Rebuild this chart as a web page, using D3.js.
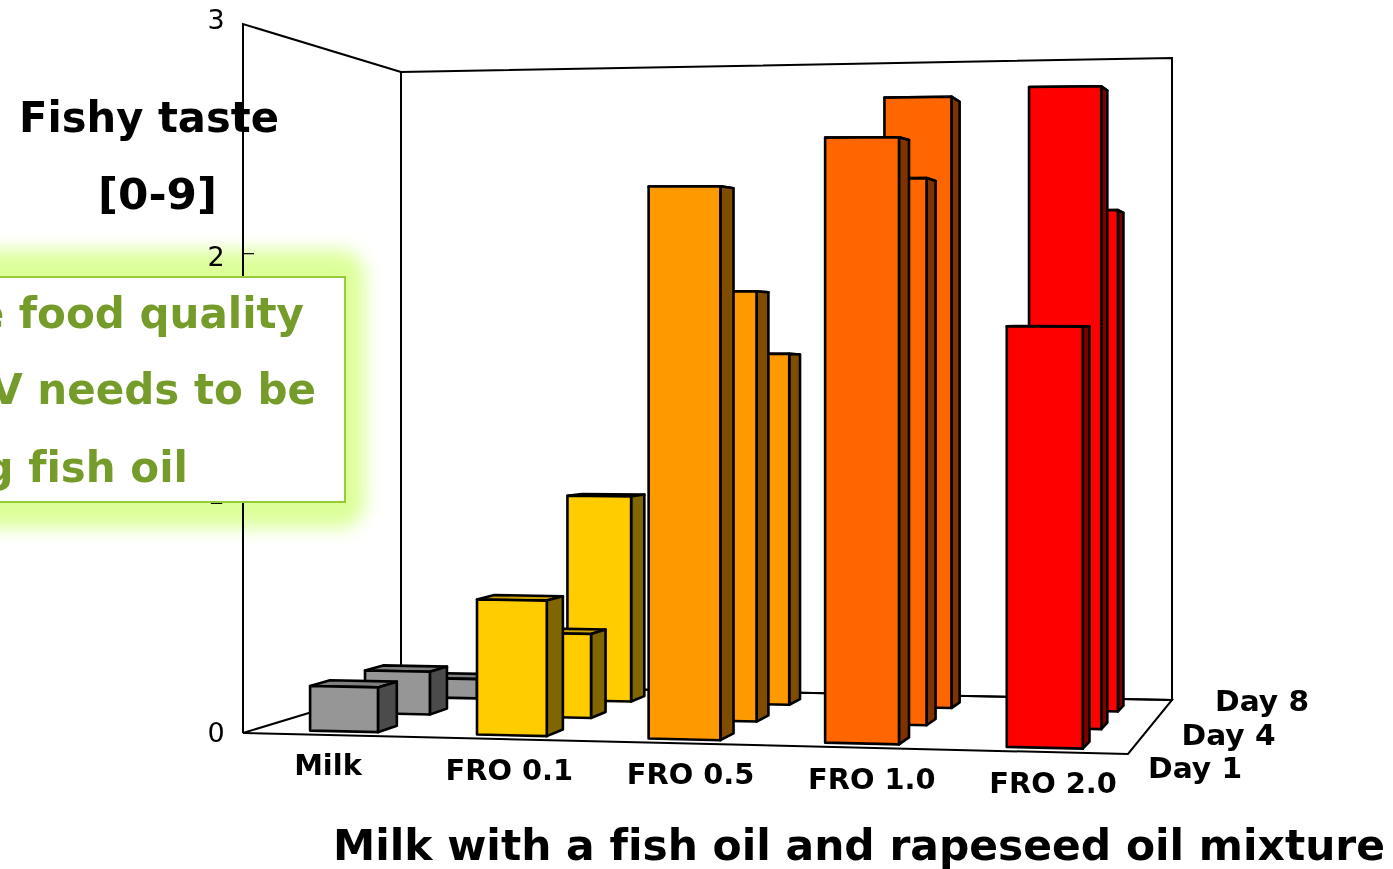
<!DOCTYPE html>
<html>
<head>
<meta charset="utf-8">
<script src="https://d3js.org/d3.v7.min.js"></script>
<style>
  html, body { margin: 0; padding: 0; background: #fff; overflow: hidden; }
  svg { display: block; }
  text { font-family: "DejaVu Sans", Verdana, sans-serif; fill: #000; font-variant-ligatures: none; }
  .bold { font-weight: bold; }
</style>
</head>
<body>
<svg id="chart" width="1393" height="869"></svg>
<script>
// data
var categories = ["Milk", "FRO 0.1", "FRO 0.5", "FRO 1.0", "FRO 2.0"];
var days = ["Day 1", "Day 4", "Day 8"];
var day1 = [0.19, 0.57, 2.31, 2.51, 1.73];
var day4 = [0.19, 0.37, 1.88, 2.37, 2.76];
var day8 = [0.09, 0.95, 1.61, 2.78, 2.26];
var yTicks = [0, 1, 2, 3];
var frontColors = ["#969696", "#ffcc00", "#ff9900", "#ff6600", "#ff0000"];
var sideColors = ["#4b4b4b", "#806600", "#804d00", "#803300", "#800000"];
var topColors = ["#808080", "#cca300", "#cc7a00", "#cc5200", "#cc0000"];
var calloutLines = ["e food quality", "V needs to be", "g fish oil"];

var svg = d3.select("#chart");

/* ~~~~~~~~~ SCALES ~~~~~~~~~ */
var uScale = d3.scaleBand().domain(categories).range([0.008, 1.007]).paddingInner(0.59).paddingOuter(0.295);
var vScale = d3.scaleBand().domain(days).range([-0.03, 0.96]).paddingInner(0.648).paddingOuter(0.289);
var labelY = d3.scaleLinear().domain([0, 3]).range([732, 19]);
var catLabelX = d3.scalePoint().domain(categories).range([328, 1053]);
var catLabelY = d3.scalePoint().domain(categories).range([775, 793]);
var dayLabelX = d3.scalePoint().domain(days).range([1148, 1215]);
var dayLabelY = d3.scalePoint().domain(days).range([778, 711]);

// floor corners on screen, front-left first, going round
var floor = [[243, 733], [1128, 754], [1172, 700], [401, 685]];
// screen height of the full 0-3 axis at each floor corner
var wallFront = d3.scaleLinear().domain([0, 1]).range([709, 740]);
var wallBack = d3.scaleLinear().domain([0, 1]).range([613, 642]);
var valueScale = d3.scaleLinear().domain([0, 3]).range([0, 1]);

// unit square -> floor quad
var hom = (function(q) {
    var dx1 = q[1][0] - q[2][0], dx2 = q[3][0] - q[2][0], dx3 = q[0][0] - q[1][0] + q[2][0] - q[3][0];
    var dy1 = q[1][1] - q[2][1], dy2 = q[3][1] - q[2][1], dy3 = q[0][1] - q[1][1] + q[2][1] - q[3][1];
    var den = dx1 * dy2 - dx2 * dy1;
    var g = (dx3 * dy2 - dx2 * dy3) / den;
    var h = (dx1 * dy3 - dx3 * dy1) / den;
    return {
        a: q[1][0] - q[0][0] + g * q[1][0], b: q[3][0] - q[0][0] + h * q[3][0], c: q[0][0],
        d: q[1][1] - q[0][1] + g * q[1][1], e: q[3][1] - q[0][1] + h * q[3][1], f: q[0][1],
        g: g, h: h
    };
})(floor);

// u: along the categories, v: into the picture, val: chart value
function project(u, v, val) {
    var w = hom.g * u + hom.h * v + 1;
    var x = (hom.a * u + hom.b * v + hom.c) / w;
    var y = (hom.d * u + hom.e * v + hom.f) / w;
    var wall = d3.interpolateNumber(wallFront(u), wallBack(u))(v);
    return [x, y - wall * valueScale(val)];
}

var line = d3.line();
function face(pts) { return line(pts) + "Z"; }

// stretch a text sideways: the reference glyphs are wider than they are tall
function stretch(sel, k) {
    sel.each(function() {
        d3.select(this)
            .attr("textLength", this.getComputedTextLength() * k)
            .attr("lengthAdjust", "spacingAndGlyphs");
    });
}

/* ~~~~~~~~~ WALLS AND FLOOR ~~~~~~~~~ */
var walls = svg.append("g").attr("fill", "none").attr("stroke", "#000").attr("stroke-width", 2);
walls.append("path").attr("d", face([project(0,0,0), project(1,0,0), project(1,1,0), project(0,1,0)]));
walls.append("path").attr("d", face([project(0,1,0), project(0,1,3), project(1,1,3), project(1,1,0)]));
walls.append("path").attr("d", line([project(0,0,0), project(0,0,3), project(0,1,3)]));

svg.append("g").selectAll("line")
    .data(yTicks.filter(function(t){ return t > 0 && t < 3; }))
    .enter().append("line")
    .attr("x1", 242).attr("x2", 254)
    .attr("y1", function(d){ return labelY(d) - 3; })
    .attr("y2", function(d){ return labelY(d) - 3; })
    .attr("stroke", "#000").attr("stroke-width", 1.2);

/* ~~~~~~~~~ BARS ~~~~~~~~~ */
// back row first so the front rows paint over it
var rows = [[days[2], day8], [days[1], day4], [days[0], day1]];
var barGroup = svg.append("g").attr("stroke", "#000").attr("stroke-width", 2.6).attr("stroke-linejoin", "round");

rows.forEach(function(row) {
    var v0 = vScale(row[0]), v1 = v0 + vScale.bandwidth();
    row[1].forEach(function(val, i) {
        var u0 = uScale(categories[i]), u1 = u0 + uScale.bandwidth();
        var g = barGroup.append("g");
        g.append("path").attr("fill", topColors[i])
            .attr("d", face([project(u0,v0,val), project(u1,v0,val), project(u1,v1,val), project(u0,v1,val)]));
        g.append("path").attr("fill", sideColors[i])
            .attr("d", face([project(u1,v0,0), project(u1,v1,0), project(u1,v1,val), project(u1,v0,val)]));
        g.append("path").attr("fill", frontColors[i])
            .attr("d", face([project(u0,v0,0), project(u1,v0,0), project(u1,v0,val), project(u0,v0,val)]));
    });
});

/* ~~~~~~~~~ AXIS LABELS ~~~~~~~~~ */
svg.append("g").selectAll("text")
    .data(yTicks).enter().append("text")
    .attr("x", 216).attr("y", labelY)
    .attr("dy", "0.36em")
    .attr("text-anchor", "middle")
    .attr("font-size", 27)
    .text(function(d){ return d; });

svg.append("g").selectAll("text")
    .data(categories).enter().append("text")
    .attr("class", "bold")
    .attr("x", catLabelX)
    .attr("y", catLabelY)
    .attr("text-anchor", "middle")
    .attr("font-size", 28)
    .text(function(d){ return d; })
    .call(stretch, 1.03);

svg.append("g").selectAll("text")
    .data(days).enter().append("text")
    .attr("class", "bold")
    .attr("x", dayLabelX)
    .attr("y", dayLabelY)
    .attr("font-size", 28)
    .text(function(d){ return d; })
    .call(stretch, 1.06);

svg.append("text").attr("class", "bold")
    .attr("x", 333).attr("y", 860).attr("font-size", 42)
    .attr("textLength", 1052).attr("lengthAdjust", "spacingAndGlyphs")
    .text("Milk with a fish oil and rapeseed oil mixture");

svg.append("text").attr("class", "bold")
    .attr("x", 19).attr("y", 132).attr("font-size", 42)
    .attr("textLength", 260).attr("lengthAdjust", "spacingAndGlyphs")
    .text("Fishy taste");
svg.append("text").attr("class", "bold")
    .attr("x", 98).attr("y", 209).attr("font-size", 42)
    .attr("textLength", 119).attr("lengthAdjust", "spacingAndGlyphs")
    .text("[0-9]");

/* ~~~~~~~~~ CALLOUT ~~~~~~~~~ */
var defs = svg.append("defs");
defs.append("filter").attr("id", "glow")
    .attr("x", "-20%").attr("y", "-30%").attr("width", "140%").attr("height", "160%")
    .append("feGaussianBlur").attr("stdDeviation", 9);

svg.append("rect").attr("x", -60).attr("y", 250).attr("width", 425).attr("height", 278)
    .attr("rx", 26).attr("fill", "#dcff99").attr("filter", "url(#glow)")
    .style("mix-blend-mode", "multiply");
svg.append("rect").attr("x", -20).attr("y", 277).attr("width", 365).attr("height", 225)
    .attr("fill", "#fff").attr("stroke", "#94cc33").attr("stroke-width", 2);

var calloutEnds = [304, 316, 188];
var calloutBase = [328, 404, 482];
svg.append("g").selectAll("text")
    .data(calloutLines).enter().append("text")
    .attr("class", "bold")
    .attr("x", function(d, i){ return calloutEnds[i]; })
    .attr("y", function(d, i){ return calloutBase[i]; })
    .attr("text-anchor", "end")
    .attr("font-size", 42)
    .style("fill", "#759c2a")
    .text(function(d){ return d; });
</script>
</body>
</html>
